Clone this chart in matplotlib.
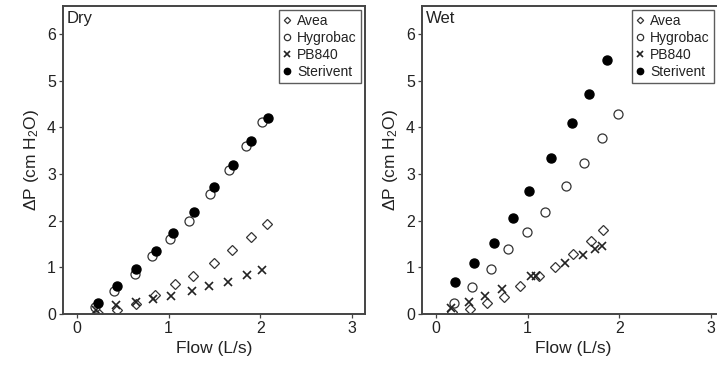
import matplotlib
matplotlib.use("Agg")
import matplotlib.pyplot as plt

plt.rcParams['font.family'] = ['Liberation Sans', 'DejaVu Sans']
plt.rcParams['mathtext.fontset'] = 'custom'
plt.rcParams['mathtext.rm'] = 'Liberation Sans'
plt.rcParams['mathtext.it'] = 'Liberation Sans'
plt.rcParams['mathtext.default'] = 'regular'

# ---- Dry panel data ----
dry_avea_x = [0.23, 0.44, 0.65, 0.85, 1.07, 1.27, 1.50, 1.69, 1.90, 2.07]
dry_avea_y = [0.03, 0.09, 0.21, 0.41, 0.64, 0.82, 1.10, 1.38, 1.66, 1.93]
dry_hygro_x = [0.20, 0.41, 0.63, 0.82, 1.02, 1.22, 1.45, 1.66, 1.84, 2.02]
dry_hygro_y = [0.15, 0.49, 0.85, 1.24, 1.61, 2.00, 2.57, 3.09, 3.61, 4.12]
dry_pb_x = [0.21, 0.43, 0.64, 0.83, 1.03, 1.25, 1.44, 1.65, 1.85, 2.02]
dry_pb_y = [0.09, 0.19, 0.25, 0.32, 0.39, 0.50, 0.59, 0.68, 0.84, 0.95]
dry_ster_x = [0.23, 0.44, 0.65, 0.86, 1.05, 1.28, 1.50, 1.70, 1.90, 2.08]
dry_ster_y = [0.24, 0.59, 0.96, 1.36, 1.73, 2.18, 2.72, 3.19, 3.71, 4.21]

# ---- Wet panel data ----
wet_avea_x = [0.18, 0.37, 0.56, 0.74, 0.92, 1.12, 1.30, 1.50, 1.69, 1.82]
wet_avea_y = [0.05, 0.10, 0.24, 0.37, 0.61, 0.81, 1.00, 1.29, 1.57, 1.80]
wet_hygro_x = [0.20, 0.40, 0.60, 0.79, 0.99, 1.19, 1.42, 1.62, 1.81, 1.99]
wet_hygro_y = [0.23, 0.58, 0.97, 1.39, 1.75, 2.19, 2.75, 3.23, 3.77, 4.29]
wet_pb_x = [0.17, 0.36, 0.54, 0.72, 1.04, 1.09, 1.41, 1.60, 1.74, 1.81]
wet_pb_y = [0.12, 0.25, 0.39, 0.54, 0.81, 0.82, 1.09, 1.27, 1.39, 1.46]
wet_ster_x = [0.21, 0.42, 0.63, 0.84, 1.02, 1.26, 1.48, 1.67, 1.86]
wet_ster_y = [0.69, 1.09, 1.53, 2.05, 2.64, 3.34, 4.09, 4.72, 5.44]

labels = ["Avea", "Hygrobac", "PB840", "Sterivent"]
panel_titles = ["Dry", "Wet"]
xticks = [0, 1, 2, 3]
yticks = [0, 1, 2, 3, 4, 5, 6]

TXT = "#222222"
SP = "#444444"

fig = plt.figure(figsize=(7.17, 3.67), dpi=100)
W, H = 717.0, 367.0
ax1 = fig.add_axes([63 / W, 1 - 314 / H, 302 / W, 308 / H])
ax2 = fig.add_axes([422 / W, 1 - 314 / H, 302 / W, 308 / H])

panels = [
    (ax1, dry_avea_x, dry_avea_y, dry_hygro_x, dry_hygro_y, dry_pb_x, dry_pb_y, dry_ster_x, dry_ster_y, 361),
    (ax2, wet_avea_x, wet_avea_y, wet_hygro_x, wet_hygro_y, wet_pb_x, wet_pb_y, wet_ster_x, wet_ster_y, 714),
]

for i, (ax, ax_x, ax_y, hx, hy, px, py, sx, sy, legx) in enumerate(panels):
    ax.plot(ax_x, ax_y, linestyle='none', marker='D', markersize=4.6,
            markerfacecolor='white', markeredgecolor='#333333', markeredgewidth=0.9, label=labels[0])
    ax.plot(hx, hy, linestyle='none', marker='o', markersize=6.5,
            markerfacecolor='white', markeredgecolor='#333333', markeredgewidth=0.9, label=labels[1])
    ax.plot(px, py, linestyle='none', marker='x', markersize=5.2,
            color='#222222', markeredgewidth=1.2, label=labels[2])
    ax.plot(sx, sy, linestyle='none', marker='o', markersize=6.5,
            markerfacecolor='black', markeredgecolor='black', label=labels[3])

    ax.set_xlim(-0.15, 3.14)
    ax.set_ylim(0, 6.6)
    ax.set_xticks(xticks)
    ax.set_yticks(yticks)
    ax.tick_params(direction='out', length=3, width=0.9, color=SP,
                   labelsize=11.5, labelcolor=TXT, pad=2)
    for s in ax.spines.values():
        s.set_color(SP)
        s.set_linewidth(1.4)
    ax.set_xlabel("Flow (L/s)", fontsize=12.5, color=TXT, labelpad=4)
    ax.set_ylabel(r"ΔP (cm H$_2$O)", fontsize=12.5, color=TXT, labelpad=4)
    ax.text(0.012, 0.985, panel_titles[i], transform=ax.transAxes, ha='left', va='top',
            fontsize=12, color=TXT)
    leg = ax.legend(loc='upper right', bbox_to_anchor=(legx / W, 1 - 10 / H),
                    bbox_transform=fig.transFigure, frameon=True, fancybox=False,
                    fontsize=10, handlelength=0.6, handletextpad=0.4, labelspacing=0.2,
                    borderpad=0.3, markerscale=0.7, borderaxespad=0)
    leg.get_frame().set_edgecolor('#333333')
    leg.get_frame().set_linewidth(1.0)
    for t in leg.get_texts():
        t.set_color(TXT)

fig.savefig("out.png", dpi=100)
